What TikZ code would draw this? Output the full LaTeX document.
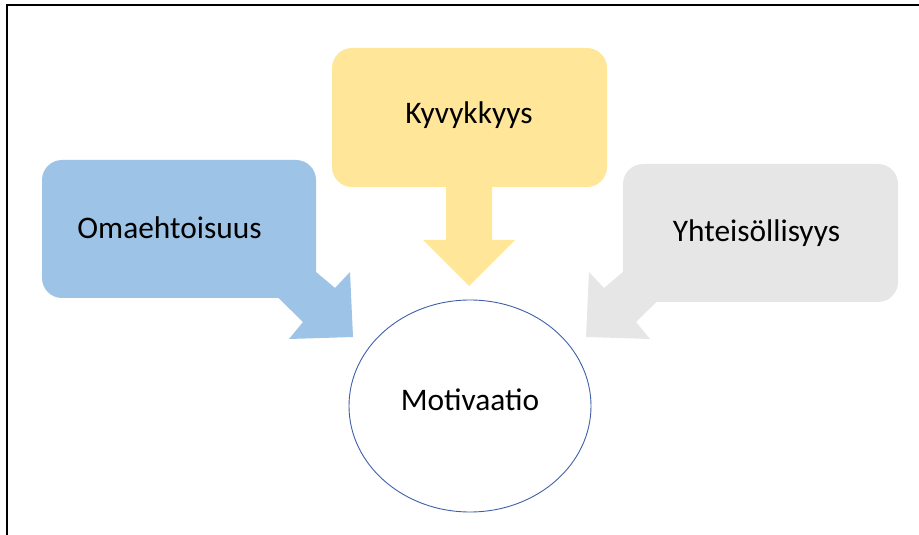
\documentclass[tikz,border=0pt]{standalone}
\usepackage{fontspec}
\setmainfont{Carlito}
\usetikzlibrary{shapes.geometric}
\definecolor{cblue}{HTML}{9DC3E6}
\definecolor{cyellow}{HTML}{FFE699}
\definecolor{cgray}{HTML}{E7E6E6}
\definecolor{cline}{HTML}{3F5FA8}
\begin{document}
\begin{tikzpicture}[x=1bp,y=-1bp,
  lbl/.style={font=\fontsize{31.5}{38}\selectfont, text=black, anchor=base, inner sep=0pt},
  boxshape/.style={rounded corners=20bp}]
\useasboundingbox (0,0) rectangle (919,535);
% frame
\draw[line width=2bp, black] (7,535) -- (7,5) -- (919,5);
% blue callout
\fill[cblue, boxshape] (42,160) rectangle (316,298);
\fill[cblue] (290,250) -- (335,288) -- (350,272) -- (353,337) -- (289,339) -- (303,322) -- (255,275) -- cycle;
% yellow callout
\fill[cyellow, boxshape] (332,48) rectangle (607,187);
\fill[cyellow] (446,180) -- (446,240) -- (423,240) -- (469,286) -- (515,240) -- (492,240) -- (492,180) -- cycle;
% gray callout
\fill[cgray, boxshape] (623,164) rectangle (898,302);
\fill[cgray] (649,250) -- (604,288) -- (589,272) -- (586,337) -- (650,339) -- (636,322) -- (684,275) -- cycle;
% ellipse
\node[ellipse, draw=cline, line width=0.9bp, minimum width=242bp, minimum height=212bp, inner sep=0pt] (mot) at (470,406) {};
% labels
\node[lbl] (oma) at (169.5,238.5) {Omaehtoisuus};
\node[lbl] (kyv) at (469,123.5) {Kyvykkyys};
\node[lbl] (yht) at (756.5,242) {Yhteisöllisyys};
\node[lbl] (motl) at (470,410.5) {Motivaatio};
\end{tikzpicture}
\end{document}
